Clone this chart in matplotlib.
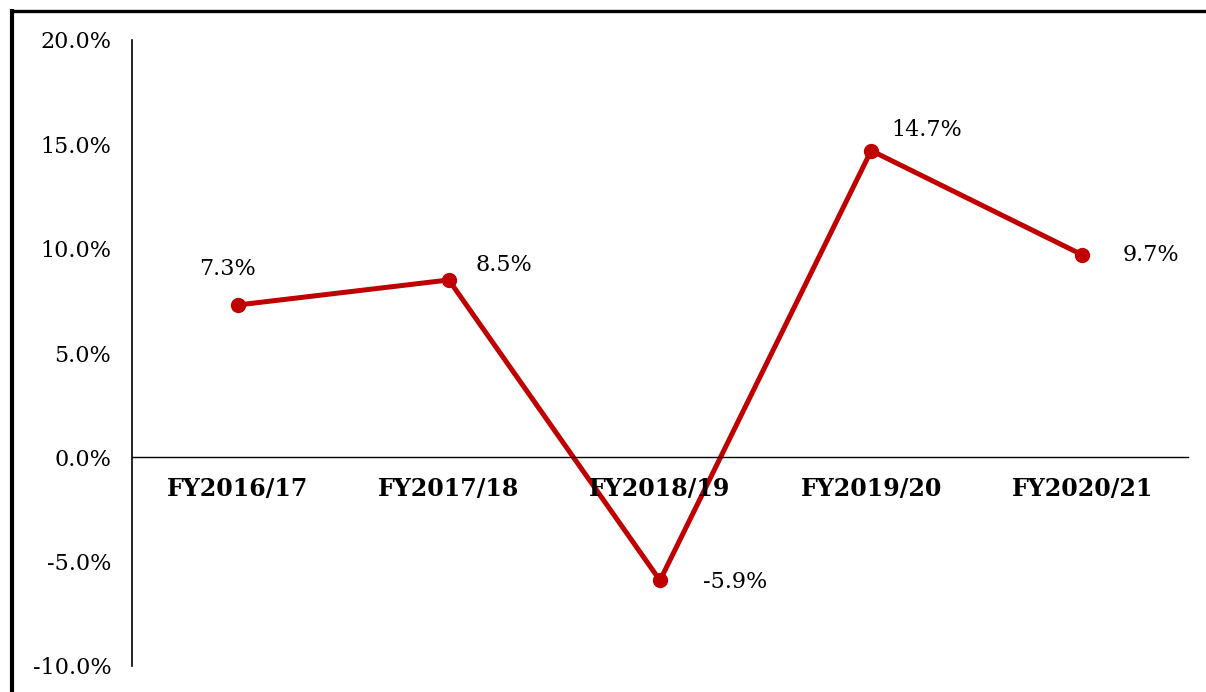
import matplotlib.pyplot as plt
from matplotlib.lines import Line2D

# data
years = ['FY2016/17', 'FY2017/18', 'FY2018/19', 'FY2019/20', 'FY2020/21']
growth = [7.3, 8.5, -5.9, 14.7, 9.7]
labels = ['7.3%', '8.5%', '-5.9%', '14.7%', '9.7%']
yticks = [-10, -5, 0, 5, 10, 15, 20]

W, H = 1206, 692
fig = plt.figure(figsize=(W / 100, H / 100), dpi=100)
ax = fig.add_axes([132 / W, 26 / H, 1056 / W, 626 / H])

x = list(range(len(years)))
ax.plot(x, growth, color='#C00000', lw=3.6, marker='o', ms=10, solid_capstyle='round')

# data labels (offsets in points)
offs = [(-7, 26), (40, 11), (54, -1), (40, 15), (49, 0)]
for xi, yi, lab, (dx, dy) in zip(x, growth, labels, offs):
    ax.annotate(lab, (xi, yi), xytext=(dx, dy), textcoords='offset points',
                ha='center', va='center', fontsize=16, family='DejaVu Serif')

ax.set_xlim(-0.5, 4.5)
ax.set_ylim(-10, 20)
ax.set_yticks(yticks)
ax.set_yticklabels([f'{v:.1f}%' for v in yticks], family='DejaVu Serif', fontsize=16)
ax.tick_params(axis='y', length=0, pad=15)

ax.spines['top'].set_visible(False)
ax.spines['right'].set_visible(False)
ax.spines['bottom'].set_position(('data', 0))
ax.spines['left'].set_linewidth(1.2)
ax.spines['bottom'].set_linewidth(1.0)
ax.set_xticks(x)
ax.set_xticklabels([])
ax.tick_params(axis='x', length=0)
for xi, yr in zip(x, years):
    ax.annotate(yr, (xi, 0), xytext=(0, -23), textcoords='offset points',
                ha='center', va='center', fontsize=17, fontweight='bold',
                family='DejaVu Serif')

# outer frame (left and top only visible)
fig.add_artist(Line2D([12 / W, 12 / W], [0, 1 - 9 / H], color='black', lw=3,
                      solid_capstyle='butt', transform=fig.transFigure))
fig.add_artist(Line2D([10 / W, 1], [1 - 10.5 / H, 1 - 10.5 / H], color='black', lw=2.4,
                      solid_capstyle='butt', transform=fig.transFigure))

fig.savefig('out.png', dpi=100)
